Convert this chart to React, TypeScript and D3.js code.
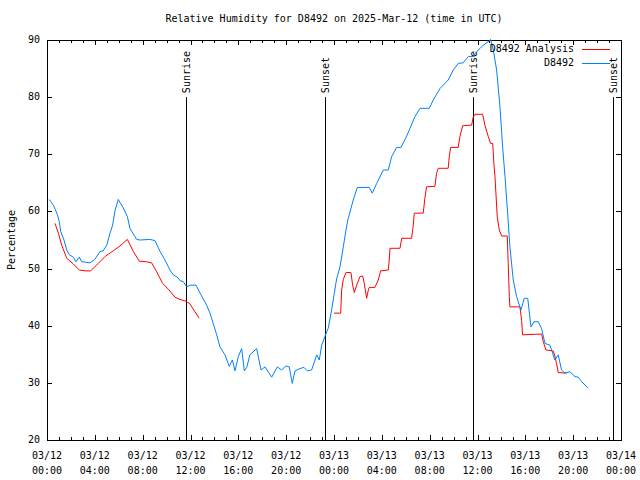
import React from "react";
import * as d3 from "d3";

const title = "Relative Humidity for D8492 on 2025-Mar-12 (time in UTC)";
const yLabel = "Percentage";

// hours since 2025-03-12 00:00 UTC
const obsHours = [0.19,0.53,0.86,1.03,1.14,1.42,1.65,1.87,2.2,2.42,2.7,2.9,3.6,4.0,4.43,4.7,5.0,5.27,5.49,5.69,5.96,6.33,6.72,6.94,7.5,7.78,8.6,9.03,9.45,9.87,10.28,10.56,10.9,11.12,11.4,11.68,11.96,12.46,12.8,13.35,13.63,13.9,14.19,14.46,14.88,15.24,15.5,15.72,16.0,16.28,16.5,16.7,16.97,17.53,17.9,18.23,18.79,19.26,19.62,19.98,20.26,20.51,20.74,21.15,21.49,21.77,22.13,22.55,22.77,22.97,23.24,23.52,23.8,24.22,24.5,24.78,25.0,25.19,25.61,25.95,26.95,27.2,27.57,28.12,28.54,28.82,29.24,29.6,30.08,30.35,30.77,31.19,31.97,32.3,32.86,33.55,33.97,34.39,34.8,35.23,35.64,35.93,36.2,36.48,36.9,37.1,37.32,37.6,37.88,38.1,38.3,38.52,38.71,38.99,39.27,39.63,39.91,40.2,40.47,40.72,41.08,41.36,41.64,42.06,42.47,42.75,43.03,43.31,43.73,44.15,44.42,44.71,45.26];
const obsValues = [62.1,61.1,59.5,58.2,56.5,55.0,53.25,52.4,52.0,51.2,52.0,51.2,51.0,51.6,53.0,53.1,54.1,56.2,57.6,60.2,62.1,60.8,59.1,57.0,55.1,55.0,55.1,54.9,53.0,51.5,49.75,48.9,48.5,47.9,47.7,46.8,47.1,47.1,45.7,43.6,42.2,40.4,38.4,36.3,34.9,32.9,34.0,32.1,34.6,36.0,32.1,32.7,34.9,36.0,32.25,32.8,31.0,32.8,32.25,32.95,32.8,29.9,32.1,32.5,32.7,32.1,32.25,34.9,34.0,36.6,38.1,39.6,42.75,48.2,50.3,53.8,56.75,58.8,62.0,64.2,64.2,63.2,64.9,67.25,67.25,69.6,71.2,71.2,73.2,74.5,76.6,78.05,78.05,79.5,81.5,83.0,84.75,85.9,86.0,87.1,87.1,87.95,88.5,89.1,89.7,90.1,88.25,84.75,78.3,71.3,66.1,59.7,53.8,48.0,45.1,42.75,44.8,44.8,39.8,40.7,40.7,39.5,36.9,36.6,34.0,34.9,32.25,31.7,31.95,31.1,31.0,30.2,29.05];

const anaHours = [0.67,0.95,1.23,1.65,2.2,2.7,3.18,3.65,4.29,4.85,5.54,6.1,6.72,7.22,7.72,8.28,8.75,9.17,9.67,10.14,10.7,11.12,11.62,11.96,12.37,12.73,
  24.0,24.56,24.64,24.78,25.0,25.42,25.56,25.7,25.9,26.17,26.4,26.53,26.73,26.87,26.95,27.42,27.7,27.9,28.54,28.62,28.68,29.52,29.66,30.49,30.63,30.71,31.46,31.6,31.74,32.44,32.58,32.72,33.55,33.64,33.75,34.39,34.53,34.76,35.51,35.64,35.79,36.43,36.62,36.9,37.1,37.27,37.37,37.46,37.54,37.65,37.82,38.02,38.49,38.57,38.66,38.71,39.55,39.69,39.77,41.36,41.5,41.72,42.33,42.47,42.61,42.75,43.45];
const anaValues = [57.9,56.2,54.1,51.8,50.8,49.75,49.6,49.6,50.9,52.1,53.1,53.95,55.1,53.0,51.3,51.2,51.0,49.45,47.4,46.4,45.0,44.6,44.3,43.8,42.45,41.3,
  42.2,42.2,46.25,48.1,49.3,49.3,47.1,45.8,47.1,48.6,48.7,47.4,44.8,46.25,46.7,46.7,48.0,49.6,49.75,51.5,53.55,53.55,55.3,55.3,57.6,59.7,59.7,62.3,64.3,64.4,66.7,67.55,67.55,69.6,71.2,71.2,73.1,75.0,75.1,76.5,77.0,77.0,75.1,73.1,71.9,71.9,68.4,66.1,63.2,59.1,56.75,55.7,55.7,50.9,45.1,43.3,43.3,40.9,38.4,38.55,37.2,35.75,35.6,34.7,33.4,31.8,31.7];
const anaBreakAfter = 12.73;

const sunEventHours = [11.64, 23.24, 35.64, 47.37];
const sunEventLabels = ["Sunrise", "Sunset", "Sunrise", "Sunset"];

const xTickHours = [0, 4, 8, 12, 16, 20, 24, 28, 32, 36, 40, 44, 48];
const xTickDates = ["03/12","03/12","03/12","03/12","03/12","03/12","03/13","03/13","03/13","03/13","03/13","03/13","03/14"];
const xTickTimes = ["00:00","04:00","08:00","12:00","16:00","20:00","00:00","04:00","08:00","12:00","16:00","20:00","00:00"];
const yTicks = [20, 30, 40, 50, 60, 70, 80, 90];

const legendNames = ["D8492 Analysis", "D8492"];
const colors = ["#ff0000", "#0080ff"];

const W = 640, H = 480;
const L = 47, R = 621, T = 40, B = 440;
const font = "'DejaVu Sans Mono', 'Liberation Mono', monospace";

export default function App() {
  const x = d3.scaleLinear().domain([0, 48]).range([L, R]);
  const y = d3.scaleLinear().domain([20, 90]).range([B, T]);

  const obsData = obsHours.map((h, i) => ({ h, v: obsValues[i] }));
  const anaData: { h: number; v: number | null }[] = [];
  anaHours.forEach((h, i) => {
    anaData.push({ h, v: anaValues[i] });
    if (h === anaBreakAfter) anaData.push({ h: h + 0.01, v: null });
  });

  const line = d3
    .line<{ h: number; v: number | null }>()
    .defined((d) => d.v !== null)
    .x((d) => x(d.h))
    .y((d) => y(d.v as number));

  const minorHours = d3.range(0, 49, 1);

  return (
    <svg width={W} height={H} style={{ position: "absolute", left: 0, top: 0, background: "#fff" }}
      fontFamily={font} fontSize={10}>
      <rect x={0} y={0} width={W} height={H} fill="#fff" />
      <text x={334} y={19} textAnchor="middle" dominantBaseline="middle">{title}</text>
      <text transform={`translate(12,${(T + B) / 2}) rotate(-90)`} textAnchor="middle" dominantBaseline="middle">{yLabel}</text>

      {/* ticks */}
      {minorHours.map((h) => {
        const major = h % 4 === 0;
        const len = major ? 5 : 3;
        return (
          <g key={"xt" + h} stroke="#000" strokeWidth={1}>
            <line x1={Math.round(x(h)) + 0.5} x2={Math.round(x(h)) + 0.5} y1={B} y2={B - len} />
            <line x1={Math.round(x(h)) + 0.5} x2={Math.round(x(h)) + 0.5} y1={T} y2={T + len} />
          </g>
        );
      })}
      {yTicks.map((t) => (
        <g key={"yt" + t}>
          <line x1={L} x2={L + 5} y1={Math.round(y(t)) + 0.5} y2={Math.round(y(t)) + 0.5} stroke="#000" />
          <line x1={R} x2={R - 5} y1={Math.round(y(t)) + 0.5} y2={Math.round(y(t)) + 0.5} stroke="#000" />
          <text x={40} y={y(t)} textAnchor="end" dominantBaseline="middle">{t}</text>
        </g>
      ))}
      {xTickHours.map((h, i) => (
        <g key={"xl" + h}>
          <text x={x(h)} y={456} textAnchor="middle" dominantBaseline="middle">{xTickDates[i]}</text>
          <text x={x(h)} y={471} textAnchor="middle" dominantBaseline="middle">{xTickTimes[i]}</text>
        </g>
      ))}

      {/* sun events */}
      {sunEventHours.map((h, i) => (
        <g key={"sun" + i}>
          <line x1={Math.round(x(h)) + 0.5} x2={Math.round(x(h)) + 0.5} y1={y(80)} y2={B} stroke="#000" strokeWidth={1} />
          <text transform={`translate(${Math.round(x(h)) + 4},${y(80) - 4}) rotate(-90)`} textAnchor="start">{sunEventLabels[i]}</text>
        </g>
      ))}

      <rect x={L + 0.5} y={T + 0.5} width={R - L} height={B - T} fill="none" stroke="#000" strokeWidth={1} />

      <path d={line(anaData) || ""} fill="none" stroke={colors[0]} strokeWidth={1} />
      <path d={line(obsData as any) || ""} fill="none" stroke={colors[1]} strokeWidth={1} />

      {/* legend */}
      {legendNames.map((n, i) => (
        <g key={"lg" + i}>
          <text x={574} y={49 + i * 14} textAnchor="end" dominantBaseline="middle">{n}</text>
          <line x1={582} x2={610} y1={49.5 + i * 14} y2={49.5 + i * 14} stroke={colors[i]} strokeWidth={1} />
        </g>
      ))}
    </svg>
  );
}
